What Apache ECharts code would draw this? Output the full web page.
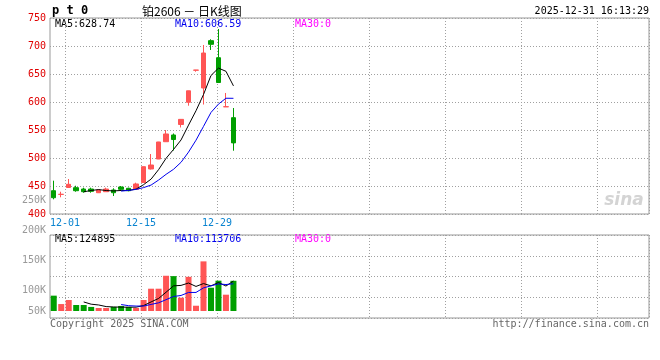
<!DOCTYPE html>
<html><head><meta charset="utf-8">
<script src="https://cdn.jsdelivr.net/npm/echarts@6/dist/echarts.min.js"></script>
<style>html,body{margin:0;padding:0;background:#fff}#c{width:660px;height:360px}</style>
</head><body><div id="c"></div>
<script>
// ---- data ----
const dates = ['11-27','11-28','12-01','12-02','12-03','12-04','12-05','12-08','12-09','12-10','12-11','12-12',
  '12-15','12-16','12-17','12-18','12-19','12-22','12-23','12-24','12-25','12-26','12-29','12-30','12-31'];
const opens  = [441.6,435.0,447.3,447.0,444.6,444.6,438.0,439.8,442.9,448.2,445.9,444.1,
  456.3,480.4,498.2,529.1,541.1,559.8,599.5,656.8,625.0,709.5,679.1,591.3,572.0];
const closes = [429.1,435.2,453.0,441.6,439.8,440.5,442.9,444.6,438.0,444.1,441.6,453.6,
  484.5,487.5,528.6,542.9,533.0,569.0,620.0,657.0,687.5,703.0,634.8,591.7,527.0];
const lows   = [426.2,429.8,447.0,439.8,438.0,438.0,437.6,439.6,432.1,441.6,440.5,443.9,
  456.1,479.5,498.0,528.9,513.4,554.5,593.4,654.1,595.5,692.9,634.6,591.1,513.0];
const highs  = [459.5,439.8,462.5,450.5,447.0,447.0,443.2,447.0,445.9,450.0,447.0,455.9,
  484.7,507.1,528.8,550.0,543.8,569.2,620.2,657.2,701.8,712.0,730.4,616.1,589.3];
const ma5  = ['-','-','-','-',439.7,442.0,443.6,441.9,441.2,442.0,442.2,444.4,
  452.4,462.3,479.2,499.4,515.3,532.2,558.7,584.4,613.3,647.3,660.5,654.8,628.8];
const ma10 = ['-','-','-','-','-','-','-','-','-',440.9,442.1,444.0,
  447.1,451.7,460.6,470.8,479.8,492.3,510.5,531.8,556.4,581.3,596.3,606.7,606.6];
const volumes = [64000,29000,46000,25000,25000,17000,12500,12500,17000,21000,17000,12500,
  46000,93000,93000,147000,145500,55500,142500,22000,207000,97000,126500,68000,126000];
const volMa5  = ['-','-','-','-',37800,28400,25100,18400,16800,16000,16000,16000,
  22700,37900,52300,78300,104900,106800,116700,102500,114500,104800,119000,104100,124900];
const volMa10 = ['-','-','-','-','-','-','-','-','-',26900,22200,20600,
  20600,27400,34200,47200,60500,64800,77300,77400,96400,104900,112900,110400,113700];
const dateTickLabels = ['12-01','12-15','12-29'];
const volTickLabels = ['50K','100K','150K','200K'];

// ---- chart ----
const UP = '#ff5555', DOWN = '#009f00';
const MONO = '"DejaVu Sans Mono"';
const SLOTS = 80;
const xCats = dates.concat(new Array(SLOTS - dates.length).fill(''));
const candleData = dates.map((d, i) => [opens[i], closes[i], lows[i], highs[i]]);
const volData = volumes.map((v, i) => ({ value: v, itemStyle: { color: closes[i] > opens[i] ? UP : DOWN } }));
const dotted = { show: true, lineStyle: { color: '#a0a0a0', width: 1, type: [1, 2] } };
const hidden = { show: false };
const volLabel = { color: '#999', fontSize: 10, fontFamily: MONO, margin: 4, interval: 0 };

const chart = echarts.init(document.getElementById('c'), null, { renderer: 'canvas' });
chart.setOption({
  animation: false,
  backgroundColor: '#fff',
  textStyle: { fontFamily: MONO },
  grid: [
    { left: 50, right: 11, top: 18, bottom: 146, show: true, borderColor: '#999', borderWidth: 1 },
    { left: 65, right: 11, top: 18, bottom: 146 },
    { left: 50, right: 11, top: 235, bottom: 49 },
    { left: 50, right: 11, top: 235, bottom: 42, show: true, borderColor: '#999', borderWidth: 1 },
    { left: 65, right: 11, top: 235, bottom: 42 },
    { left: 50, right: 11, top: 230, bottom: 70 },
    { left: 50, right: 11, top: 301, bottom: 39 }
  ],
  xAxis: [
    { type: 'category', gridIndex: 0, data: xCats, boundaryGap: true, axisLine: hidden, axisTick: hidden, axisLabel: hidden, splitLine: hidden },
    { type: 'value', gridIndex: 1, min: 0, max: 584, interval: 76, axisLine: hidden, axisTick: hidden, splitLine: dotted,
      axisLabel: { color: '#0a84d0', fontSize: 10, fontFamily: MONO, margin: 4,
        formatter: v => (v % 76 === 0 && dateTickLabels[v / 76]) ? dateTickLabels[v / 76] : '' } },
    { type: 'category', gridIndex: 2, data: xCats, boundaryGap: true, show: false },
    { type: 'value', gridIndex: 3, min: 0, max: 1, show: false },
    { type: 'value', gridIndex: 4, min: 0, max: 584, interval: 76, axisLine: hidden, axisTick: hidden, axisLabel: hidden, splitLine: dotted },
    { type: 'value', gridIndex: 5, min: 0, max: 1, show: false },
    { type: 'value', gridIndex: 6, min: 0, max: 1, show: false }
  ],
  yAxis: [
    { type: 'value', gridIndex: 0, min: 400, max: 750, interval: 50, axisLine: hidden, axisTick: hidden, splitLine: dotted,
      axisLabel: { color: '#e00000', fontSize: 10, fontFamily: MONO, margin: 4 } },
    { type: 'value', gridIndex: 1, min: 0, max: 1, show: false },
    { type: 'value', gridIndex: 2, min: 0, max: 317000, show: false },
    { type: 'value', gridIndex: 3, min: 0, max: 4, interval: 1, axisLine: hidden, axisTick: hidden, axisLabel: hidden, splitLine: dotted },
    { type: 'value', gridIndex: 4, min: 0, max: 1, show: false },
    { type: 'category', gridIndex: 5, boundaryGap: false, data: volTickLabels.slice(1),
      axisLine: hidden, axisTick: hidden, splitLine: hidden, axisLabel: volLabel },
    { type: 'category', gridIndex: 6, boundaryGap: true, data: volTickLabels.slice(0, 1),
      axisLine: hidden, axisTick: hidden, splitLine: hidden, axisLabel: volLabel }
  ],
  series: [
    { type: 'candlestick', xAxisIndex: 0, yAxisIndex: 0, data: candleData, barWidth: 5,
      itemStyle: { color: UP, color0: DOWN, borderColor: UP, borderColor0: DOWN, borderWidth: 1 } },
    { type: 'line', xAxisIndex: 0, yAxisIndex: 0, data: ma5, symbol: 'none', lineStyle: { color: '#000', width: 1 } },
    { type: 'line', xAxisIndex: 0, yAxisIndex: 0, data: ma10, symbol: 'none', lineStyle: { color: '#0000ee', width: 1 } },
    { type: 'bar', xAxisIndex: 2, yAxisIndex: 2, data: volData, barWidth: 6 },
    { type: 'line', xAxisIndex: 2, yAxisIndex: 2, data: volMa5, symbol: 'none', lineStyle: { color: '#000', width: 1 } },
    { type: 'line', xAxisIndex: 2, yAxisIndex: 2, data: volMa10, symbol: 'none', lineStyle: { color: '#0000ee', width: 1 } }
  ],
  graphic: [
    { type: 'text', x: 52, y: 11, style: { text: 'p t 0', font: 'bold 12px ' + MONO, fill: '#000', verticalAlign: 'middle' } },
    { type: 'text', x: 142, y: 11, style: { text: '铂2606 － 日K线图', font: '12px "Noto Sans CJK SC"', fill: '#000', verticalAlign: 'middle' } },
    { type: 'text', x: 649, y: 11, style: { text: '2025-12-31 16:13:29', font: '10px ' + MONO, fill: '#000', align: 'right', verticalAlign: 'middle' } },
    { type: 'text', x: 55, y: 24, style: { text: 'MA5:628.74', font: '10px ' + MONO, fill: '#000', verticalAlign: 'middle' } },
    { type: 'text', x: 175, y: 24, style: { text: 'MA10:606.59', font: '10px ' + MONO, fill: '#0000ee', verticalAlign: 'middle' } },
    { type: 'text', x: 295, y: 24, style: { text: 'MA30:0', font: '10px ' + MONO, fill: '#ff00ff', verticalAlign: 'middle' } },
    { type: 'text', x: 46, y: 200, style: { text: '250K', font: '10px ' + MONO, fill: '#999', align: 'right', verticalAlign: 'middle' } },
    { type: 'text', x: 55, y: 239, style: { text: 'MA5:124895', font: '10px ' + MONO, fill: '#000', verticalAlign: 'middle' } },
    { type: 'text', x: 175, y: 239, style: { text: 'MA10:113706', font: '10px ' + MONO, fill: '#0000ee', verticalAlign: 'middle' } },
    { type: 'text', x: 295, y: 239, style: { text: 'MA30:0', font: '10px ' + MONO, fill: '#ff00ff', verticalAlign: 'middle' } },
    { type: 'text', x: 50, y: 324, style: { text: 'Copyright 2025 SINA.COM', font: '10px ' + MONO, fill: '#666', verticalAlign: 'middle' } },
    { type: 'text', x: 649, y: 324, style: { text: 'http://finance.sina.com.cn', font: '10px ' + MONO, fill: '#666', align: 'right', verticalAlign: 'middle' } },
    { type: 'text', x: 624, y: 201, style: { text: 'sina', font: 'italic bold 17px "DejaVu Sans"', fill: '#d4d4d4', align: 'center', verticalAlign: 'middle' } }
  ]
});
</script>
</body></html>
